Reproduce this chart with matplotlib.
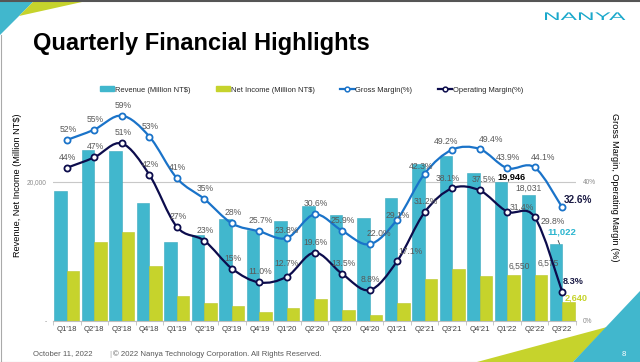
import numpy as np
import matplotlib.pyplot as plt
from matplotlib.path import Path
from matplotlib.patches import PathPatch, Polygon, Patch
from matplotlib.lines import Line2D
from matplotlib.transforms import Affine2D
from matplotlib import patheffects

plt.rcParams['font.family'] = ['Liberation Sans', 'DejaVu Sans']

quarters = ["Q1'18", "Q2'18", "Q3'18", "Q4'18", "Q1'19", "Q2'19", "Q3'19", "Q4'19",
            "Q1'20", "Q2'20", "Q3'20", "Q4'20", "Q1'21", "Q2'21", "Q3'21", "Q4'21",
            "Q1'22", "Q2'22", "Q3'22"]
revenue = [18700, 24500, 24350, 16900, 11300, 12400, 14700, 13100, 14400, 16450,
           15250, 14720, 17700, 22600, 23740, 21300, 19946, 18031, 11022]
net_income = [7200, 11270, 12800, 7900, 3500, 2600, 2150, 1200, 1870, 3150,
              1580, 860, 2600, 6040, 7480, 6380, 6550, 6575, 2640]
gross_margin = [52, 55, 59, 53, 41, 35, 28, 25.7, 23.8, 30.6, 25.9, 22.0, 29.1,
                42.3, 49.2, 49.4, 43.9, 44.1, 32.6]
op_margin = [44, 47, 51, 42, 27, 23, 15, 11.0, 12.7, 19.6, 13.5, 8.8, 17.1,
             31.2, 38.1, 37.5, 31.4, 29.8, 8.3]
gross_labels = ["52%", "55%", "59%", "53%", "41%", "35%", "28%", "25.7%", "23.8%",
                "30.6%", "25.9%", "22.0%", "29.1%", "42.3%", "49.2%", "49.4%",
                "43.9%", "44.1%", "32.6%"]
op_labels = ["44%", "47%", "51%", "42%", "27%", "23%", "15%", "11.0%", "12.7%",
             "19.6%", "13.5%", "8.8%", "17.1%", "31.2%", "38.1%", "37.5%",
             "31.4%", "29.8%", "8.3%"]

CYAN = '#41B7CD'
LIME = '#C6D32C'
BLUE = '#1A73C9'
NAVY = '#0C0C4C'
GREY = '#595959'
PT = 72 / 100  # px -> points

# label offsets in px (dx, dy up) where Excel moved them
gross_off = {8: (0, 7), 11: (9, 10.5), 12: (1, 4), 13: (-4, 7), 14: (-6, 8),
             15: (11, 10), 17: (8, 10.4)}
op_off = {8: (0, 13), 12: (13, 10), 14: (-4, 10), 15: (4, 11), 16: (14.5, 4.4),
          17: (18, -4)}


def fx(px):
    return px / 640


def fy(py):
    return 1 - py / 362


def smooth_path(x, y):
    pts = np.column_stack([x, y]).astype(float)
    n = len(pts)
    verts = [pts[0]]
    codes = [Path.MOVETO]
    for i in range(n - 1):
        p0 = pts[max(i - 1, 0)]
        p1 = pts[i]
        p2 = pts[i + 1]
        p3 = pts[min(i + 2, n - 1)]
        verts += [p1 + (p2 - p0) / 6, p2 - (p3 - p1) / 6, p2]
        codes += [Path.CURVE4] * 3
    return Path(verts, codes)


class StretchX(patheffects.AbstractPathEffect):
    def __init__(self, sx):
        super().__init__()
        self.sx = sx

    def draw_path(self, renderer, gc, tpath, affine, rgbFace=None):
        renderer.draw_path(gc, tpath, Affine2D().scale(self.sx, 1) + affine, rgbFace)


fig = plt.figure(figsize=(6.4, 3.62), dpi=100)

# slide decorations
for pts, col in [([(0, 2), (33, 2), (0, 35)], CYAN),
                 ([(33, 2), (82, 2), (19, 16)], LIME),
                 ([(477, 362), (607, 327), (573, 362)], LIME),
                 ([(573, 362), (640, 291), (640, 362)], CYAN)]:
    fig.add_artist(Polygon([(fx(a), fy(b)) for a, b in pts], closed=True,
                           transform=fig.transFigure, color=col, lw=0))
fig.add_artist(Line2D([0, 1], [fy(1), fy(1)], transform=fig.transFigure, color='#555555', lw=1.5))
fig.add_artist(Line2D([fx(0.5), fx(0.5)], [fy(35), fy(362)], transform=fig.transFigure, color='#AAAAAA', lw=0.8))
fig.add_artist(Line2D([0, 1], [fy(361.5), fy(361.5)], transform=fig.transFigure, color='#AAAAAA', lw=0.8))

fig.text(fx(33), fy(50), "Quarterly Financial Highlights", fontsize=17, fontweight='bold',
         ha='left', va='baseline', color='black')
fig.text(fx(543), fy(20), "NANYA", fontsize=8, color='#1AA8CB', ha='left', va='baseline',
         path_effects=[StretchX(2.2)])
fig.text(fx(33), fy(354), "October 11, 2022", fontsize=5.6, color=GREY, va='center')
fig.text(fx(109), fy(354), "|", fontsize=6, color='#A0A0A0', va='center')
fig.text(fx(113), fy(354), "\u00a9 2022 Nanya Technology Corporation. All Rights Reserved.",
         fontsize=5.6, color=GREY, va='center')
fig.text(fx(624), fy(354), "8", fontsize=5.6, color='white', va='center', ha='center')

ax = fig.add_axes([fx(53), fy(320.7), (576 - 53) / 640, 222.4 / 362])
x = np.arange(len(quarters))
w = 0.455
ax.bar(x - w / 2, revenue, w, color=CYAN, edgecolor='#3AA9BE', lw=0.4, zorder=2)
ax.bar(x + w / 2, net_income, w, color=LIME, edgecolor='#BAC629', lw=0.4, zorder=2)
ax.set_xlim(-0.5, len(quarters) - 0.5)
ax.set_ylim(0, 32000)
ax.set_yticks([0, 20000])
ax.set_yticklabels(["-", "20,000"])
ax.set_xticks(x)
ax.set_xticklabels(quarters)
ax.set_xticks(np.arange(-0.5, len(quarters), 1), minor=True)
ax.tick_params(axis='x', which='major', length=0, pad=3.6, labelsize=5.6, labelcolor='#404040')
ax.tick_params(axis='x', which='minor', length=3, width=0.6, color='#BFBFBF')
ax.tick_params(axis='y', length=0, pad=4.3, labelsize=4.7, labelcolor='#8C8C8C')
ax.grid(axis='y', color='#C8C8C8', lw=0.8)
ax.set_axisbelow(True)
for s in ['top', 'right', 'left']:
    ax.spines[s].set_visible(False)
ax.spines['bottom'].set_color('#BFBFBF')
ax.spines['bottom'].set_linewidth(0.8)

# bar value labels (only the last quarters are labelled)
bar_labels = [(16, -w / 2, revenue, "19,946", (10.5, 4.8), 'black', 'bold'),
              (17, -w / 2, revenue, "18,031", (0, 6.7), GREY, 'normal'),
              (16, w / 2, net_income, "6,550", (6, 8.5), GREY, 'normal'),
              (17, w / 2, net_income, "6,575", (7, 12), GREY, 'normal'),
              (18, w / 2, net_income, "2,640", (8, 4), LIME, 'bold')]
for i, dx, vals, txt, (ox, oy), col, wt in bar_labels:
    ax.annotate(txt, (i + dx, vals[i]), xytext=(ox * PT, oy * PT), textcoords='offset points',
                ha='center', va='center', fontsize=6.6 if wt == 'bold' else 6.2,
                color=col, fontweight=wt, zorder=3)
ax.annotate("11,022", (18 - w / 2 + 0.13, revenue[18]), xytext=(2.7 * PT, 12.3 * PT),
            textcoords='offset points', ha='center', va='center', fontsize=6.8,
            color='#2BB5CF', fontweight='bold',
            arrowprops=dict(arrowstyle='-', color='#404040', lw=0.6, relpos=(0.3, 0),
                            shrinkA=1, shrinkB=0))

ax2 = ax.twinx()
ax2.set_ylim(0, 64)
ax2.set_yticks([0, 40])
ax2.set_yticklabels(["0%", "40%"])
ax2.tick_params(axis='y', length=0, pad=5, labelsize=4.7, labelcolor='#8C8C8C')
for s in ax2.spines.values():
    s.set_visible(False)

for vals, col in [(gross_margin, BLUE), (op_margin, NAVY)]:
    ax2.add_patch(PathPatch(smooth_path(x, vals), fill=False, edgecolor=col, lw=1.6,
                            capstyle='round', zorder=3))
    ax2.plot(x, vals, 'o', ms=4.4, mfc='white', mec=col, mew=1.3, zorder=4)

for vals, labs, offs in [(gross_margin, gross_labels, gross_off), (op_margin, op_labels, op_off)]:
    for i in range(len(quarters) - 1):
        ox, oy = offs.get(i, (1, 10.5))
        ax2.annotate(labs[i], (x[i], vals[i]), xytext=(ox * PT, oy * PT),
                     textcoords='offset points', ha='center', va='center',
                     fontsize=6.2, color=GREY, zorder=5)
ax2.annotate(gross_labels[-1], (x[-1], gross_margin[-1]), xytext=(2 * PT, 7 * PT),
             textcoords='offset points', ha='left', va='center', fontsize=7.2,
             fontweight='bold', color='#1A1A44', zorder=5)
ax2.annotate(op_labels[-1], (x[-1], op_margin[-1]), xytext=(0.5 * PT, 10.5 * PT),
             textcoords='offset points', ha='left', va='center', fontsize=6.6,
             fontweight='bold', color='#1A1A44', zorder=5)

handles = [Patch(color=CYAN), Patch(color=LIME),
           Line2D([], [], color=BLUE, lw=1.6, marker='o', ms=3.4, mfc='white', mew=1.1),
           Line2D([], [], color=NAVY, lw=1.6, marker='o', ms=3.4, mfc='white', mew=1.1)]
labels = ["Revenue (Million NT$)", "Net Income (Million NT$)", "Gross Margin(%)",
          "Operating Margin(%)"]
ax2.legend(handles, labels, loc='center', bbox_to_anchor=(fx(311.5), fy(90)),
           bbox_transform=fig.transFigure, ncol=4, frameon=False, fontsize=5.4,
           handlelength=1.9, handleheight=0.6, handletextpad=0.1, columnspacing=3.4,
           labelcolor='#262626')

fig.text(fx(18), fy(185), "Revenue, Net Income (Million NT$)", rotation=90,
         ha='center', va='center', fontsize=6.6, color='black')
fig.text(fx(615), fy(187), "Gross Margin, Operating Margin (%)", rotation=270,
         ha='center', va='center', fontsize=6.6, color='black')

fig.savefig("out.png", dpi=100)
